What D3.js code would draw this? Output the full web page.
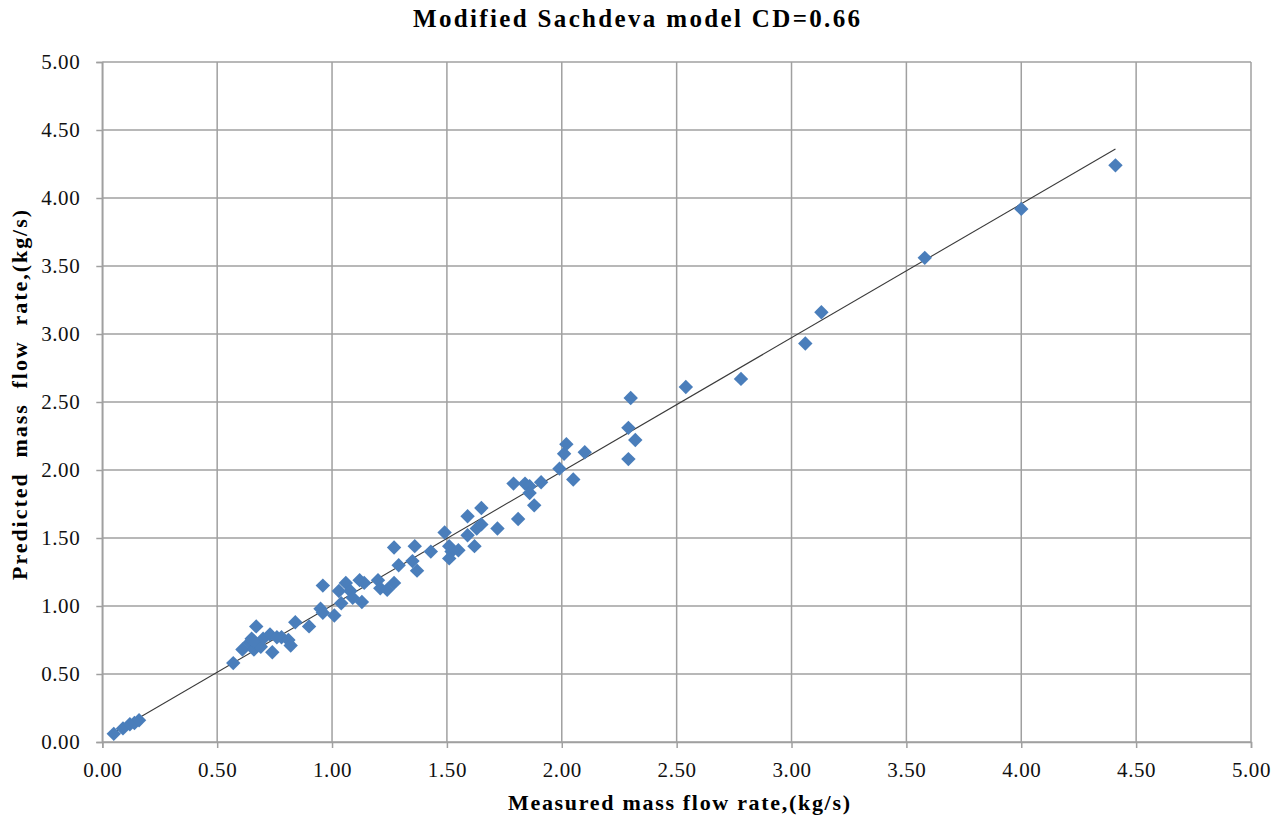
<!DOCTYPE html>
<html>
<head>
<meta charset="utf-8">
<script src="https://cdn.jsdelivr.net/npm/d3@7"></script>
<style>
  html, body { margin: 0; padding: 0; background: #fff; }
  svg { display: block; font-family: "Liberation Serif", "Times New Roman", serif; }
</style>
</head>
<body>
<svg id="chart" width="1282" height="820"></svg>
<script>
const chartTitle = "Modified Sachdeva model CD=0.66";
const xTitle = "Measured  mass  flow  rate,(kg/s)";
const yTitle = "Predicted  mass  flow  rate,(kg/s)";

const measured = [
  0.05, 0.09, 0.12, 0.14, 0.16,
  0.57, 0.67, 0.61, 0.64, 0.66, 0.65, 0.69, 0.70, 0.73, 0.74, 0.76, 0.78, 0.81, 0.82, 0.84, 0.90, 0.66,
  0.95, 0.96, 0.96, 1.01, 1.03, 1.04, 1.06, 1.08, 1.09, 1.12, 1.14, 1.13, 1.20, 1.21, 1.24, 1.27, 1.29, 1.37, 1.35,
  1.27, 1.36, 1.43, 1.49, 1.51, 1.52, 1.51, 1.55, 1.62, 1.59, 1.63, 1.65, 1.72, 1.59, 1.65,
  1.79, 1.84, 1.86, 1.86, 1.91, 1.88, 1.81, 1.99, 2.01, 2.02, 2.05, 2.10,
  2.29, 2.32, 2.29, 2.30, 2.54, 2.78, 3.06, 3.13, 3.58, 4.00, 4.41
];
const predicted = [
  0.06, 0.10, 0.13, 0.14, 0.16,
  0.58, 0.85, 0.68, 0.73, 0.68, 0.76, 0.70, 0.76, 0.79, 0.66, 0.77, 0.77, 0.75, 0.71, 0.88, 0.85, 0.74,
  0.98, 0.95, 1.15, 0.93, 1.11, 1.02, 1.17, 1.11, 1.06, 1.19, 1.17, 1.03, 1.19, 1.13, 1.12, 1.17, 1.30, 1.26, 1.33,
  1.43, 1.44, 1.40, 1.54, 1.44, 1.40, 1.35, 1.41, 1.44, 1.52, 1.57, 1.60, 1.57, 1.66, 1.72,
  1.90, 1.90, 1.88, 1.83, 1.91, 1.74, 1.64, 2.01, 2.12, 2.19, 1.93, 2.13,
  2.31, 2.22, 2.08, 2.53, 2.61, 2.67, 2.93, 3.16, 3.56, 3.92, 4.24
];
const trendX = [0.05, 4.41];
const trendY = [0.07, 4.36];
const tickValues = [0, 0.5, 1, 1.5, 2, 2.5, 3, 3.5, 4, 4.5, 5];

const svg = d3.select("#chart");
const margin = { left: 102.3, top: 62, right: 1282 - 1251, bottom: 820 - 742 };
const W = 1282, H = 820;
const x = d3.scaleLinear().domain([0, 5]).range([margin.left, W - margin.right]);
const y = d3.scaleLinear().domain([0, 5]).range([H - margin.bottom, margin.top]);

const gridColor = "#a0a0a0";

// gridlines
svg.append("g").selectAll("line").data(tickValues).join("line")
  .attr("x1", d => x(d)).attr("x2", d => x(d))
  .attr("y1", y(0)).attr("y2", y(5))
  .attr("stroke", gridColor).attr("stroke-width", 1.5);
svg.append("g").selectAll("line").data(tickValues).join("line")
  .attr("x1", x(0)).attr("x2", x(5))
  .attr("y1", d => y(d)).attr("y2", d => y(d))
  .attr("stroke", gridColor).attr("stroke-width", 1.5);

// axes
const fmt = d3.format(".2f");
const xAxis = svg.append("g").attr("transform", `translate(0,${y(0)})`)
  .call(d3.axisBottom(x).tickValues(tickValues).tickFormat(fmt).tickSize(6).tickPadding(14));
const yAxis = svg.append("g").attr("transform", `translate(${x(0)},0)`)
  .call(d3.axisLeft(y).tickValues(tickValues).tickFormat(fmt).tickSize(6).tickPadding(16));
[xAxis, yAxis].forEach(a => {
  a.select(".domain").attr("stroke", gridColor).attr("stroke-width", 1.5);
  a.selectAll(".tick line").attr("stroke", gridColor).attr("stroke-width", 1.5);
  a.selectAll(".tick text").attr("fill", "#111").style("font-size", "21px")
    .style("letter-spacing", "0.6px")
    .style("font-family", "'Liberation Serif', serif");
});

// trend line
svg.append("line")
  .attr("x1", x(trendX[0])).attr("y1", y(trendY[0]))
  .attr("x2", x(trendX[1])).attr("y2", y(trendY[1]))
  .attr("stroke", "#3a3a3a").attr("stroke-width", 1.1);

// points
const pts = measured.map((m, i) => ({ m, p: predicted[i] }));
const diamond = d3.symbol().type(d3.symbolSquare).size(104);
svg.append("g").selectAll("path").data(pts).join("path")
  .attr("d", diamond)
  .attr("transform", d => `translate(${x(d.m)},${y(d.p)}) rotate(45)`)
  .attr("fill", "#4a7ebb");

// titles
svg.append("text").attr("x", 636.5).attr("y", 27).attr("text-anchor", "middle")
  .attr("textLength", 447).attr("lengthAdjust", "spacing")
  .style("font-size", "25px").style("font-weight", "bold").text(chartTitle);
svg.append("text").attr("x", 679).attr("y", 810).attr("text-anchor", "middle")
  .attr("textLength", 342).attr("lengthAdjust", "spacing")
  .style("font-size", "22px").style("font-weight", "bold").text(xTitle);
svg.append("text").attr("transform", `translate(27,395) rotate(-90)`)
  .attr("text-anchor", "middle")
  .attr("textLength", 370).attr("lengthAdjust", "spacing")
  .style("white-space", "pre")
  .style("font-size", "22px").style("font-weight", "bold").text(yTitle);
</script>
</body>
</html>
